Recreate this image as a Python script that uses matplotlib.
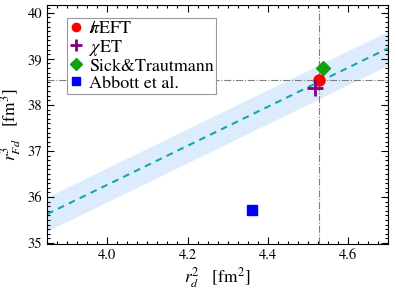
import matplotlib
matplotlib.use('Agg')
import matplotlib.pyplot as plt
import numpy as np

plt.rcParams['font.family'] = 'STIXGeneral'
plt.rcParams['mathtext.fontset'] = 'stix'

# fit line and its error band
fit_x = [3.85, 4.70]
fit_y = [35.63, 39.23]
band_half = 0.37

# reference values (cross hair)
ref_x = 4.528
ref_y = 38.53

# data points
pieft = (4.528, 38.53)
chiet = (4.518, 38.37)
sick = (4.539, 38.80)
abbott = (4.362, 35.72)

fig = plt.figure(figsize=(3.96, 2.91), dpi=100)
ax = fig.add_axes([0.119, 0.1615, 0.861, 0.8215])

fx = np.array(fit_x)
fy = np.array(fit_y)
ax.fill_between(fx, fy - band_half, fy + band_half, color='#ddecfc', lw=0)
ax.plot(fx, fy, ls=(0, (3.2, 2.6)), color='#16a6a6', lw=1.5)

ax.axvline(ref_x, color='gray', ls='-.', lw=0.8)
ax.axhline(ref_y, color='gray', ls='-.', lw=0.8)

ax.plot(*pieft, 'o', color='red', ms=8, label=r'$/\!\!\pi$EFT', zorder=5)
ax.plot(*chiet, '+', color='purple', ms=11, mew=2, label=r'$\chi$ET', zorder=5)
ax.plot(*sick, 'D', color='#10a010', ms=7.5, label='Sick&Trautmann', zorder=4)
ax.plot(*abbott, 's', color='blue', ms=7.5, label='Abbott et al.', zorder=4)

ax.set_xlim(3.85, 4.70)
ax.set_ylim(34.98, 40.17)
ax.set_xticks([4.0, 4.2, 4.4, 4.6])
ax.set_xticklabels(['4.0', '4.2', '4.4', '4.6'])
ax.set_yticks([35, 36, 37, 38, 39, 40])
ax.xaxis.set_minor_locator(matplotlib.ticker.MultipleLocator(0.025))
ax.yaxis.set_minor_locator(matplotlib.ticker.MultipleLocator(0.1))
ax.tick_params(which='both', direction='in', top=True, right=True, labelsize=10.5)
ax.tick_params(which='major', length=5, width=0.8)
ax.tick_params(which='minor', length=2.5, width=0.8)

ax.set_xlabel(r'$r_d^2$   [fm$^2$]', fontsize=12.5, labelpad=2)
ax.set_ylabel(r'$r_{Fd}^3$   [fm$^3$]', fontsize=12.5, labelpad=3)

leg = ax.legend(loc='upper left', bbox_to_anchor=(0.057, 0.944), fontsize=13,
                fancybox=False, edgecolor='#999999', framealpha=1,
                handletextpad=0.35, borderpad=0.12, labelspacing=0.02,
                handlelength=0.8, borderaxespad=0, markerscale=0.75)
leg.get_frame().set_linewidth(0.8)

fig.savefig('out.png', dpi=100)
